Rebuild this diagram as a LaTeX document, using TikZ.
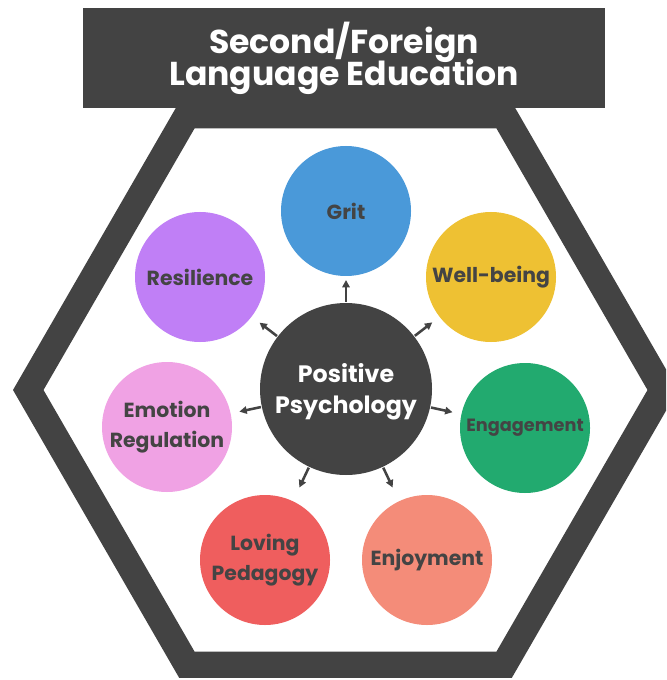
\documentclass[tikz,border=0pt]{standalone}
\usepackage{fontspec}
\setmainfont{Poppins}
\usetikzlibrary{calc,arrows.meta}
\newcommand\mytightls{\lineskiplimit=-20pt\relax}
\definecolor{dark}{HTML}{434343}
\definecolor{txt}{HTML}{444444}
\definecolor{cgrit}{HTML}{4A99D9}
\definecolor{cwell}{HTML}{EEC133}
\definecolor{ceng}{HTML}{22AA6F}
\definecolor{cenj}{HTML}{F48C79}
\definecolor{clov}{HTML}{EF5E5E}
\definecolor{cemo}{HTML}{F0A2E4}
\definecolor{cres}{HTML}{C07FF6}
\tikzset{
  bubble/.style={circle, inner sep=0pt, minimum size=130*0.75pt, align=center,
    text=txt, font=\fontsize{15.3}{22.5}\selectfont\bfseries\mytightls},
  arr/.style={draw=dark, line width=1.9pt, -{Triangle[length=5.5pt,width=5.5pt]}},
}
\begin{document}
\begin{tikzpicture}[x=0.75pt,y=-0.75pt]
\useasboundingbox (0,0) rectangle (666,680);
\clip (0,0) rectangle (666,680);
\fill[white] (0,0) rectangle (666,680);
% hexagon frame
\def\cx{345.5}\def\cy{390}
\fill[dark, even odd rule]
  ({\cx+332.5},\cy) -- ({\cx+166.25},{\cy-287.95}) -- ({\cx-166.25},{\cy-287.95}) --
  ({\cx-332.5},\cy) -- ({\cx-166.25},{\cy+287.95}) -- ({\cx+166.25},{\cy+287.95}) -- cycle
  ({\cx+302},\cy) -- ({\cx+151},{\cy-261.5}) -- ({\cx-151},{\cy-261.5}) --
  ({\cx-302},\cy) -- ({\cx-151},{\cy+261.5}) -- ({\cx+151},{\cy+261.5}) -- cycle;
% title
\node[fill=dark, minimum width=522*0.75pt, minimum height=100*0.75pt, inner sep=0pt,
  text=white, align=center, font=\fontsize{24.8}{24}\selectfont\bfseries\mytightls]
  (title) at (344,58) {Second/Foreign\\Language Education};
% circles
\node[circle, fill=dark, inner sep=0pt, minimum size=172*0.75pt] (pp) at (346,389) {};
\node[align=center, text=white, inner sep=0pt,
  font=\fontsize{17.8}{23.3}\selectfont\bfseries\mytightls]
  (pptext) at ($(pp.center)+(0,3)$) {Positive\\Psychology};
\node[bubble, fill=cgrit] (grit) at (346,211) {Grit};
\node[bubble, fill=cwell] (well) at (491,277) {Well-being};
\node[bubble, fill=ceng, font=\fontsize{13.3}{20}\selectfont\bfseries] (eng) at (525,428) {Engagement};
\node[bubble, fill=cenj] (enj) at (427,560) {Enjoyment};
\node[bubble, fill=clov] (lov) at (265,560) {Loving\\Pedagogy};
\node[bubble, fill=cemo] (emo) at (167,427) {Emotion\\Regulation};
\node[bubble, fill=cres] (res) at (200,277) {Resilience};
% arrows
\foreach \t in {grit,well,eng,enj,lov,emo,res}{
  \draw[arr] ($(pp.center)!87*0.75pt!(\t.center)$) -- ($(pp.center)!109*0.75pt!(\t.center)$);
}
\end{tikzpicture}
\end{document}
